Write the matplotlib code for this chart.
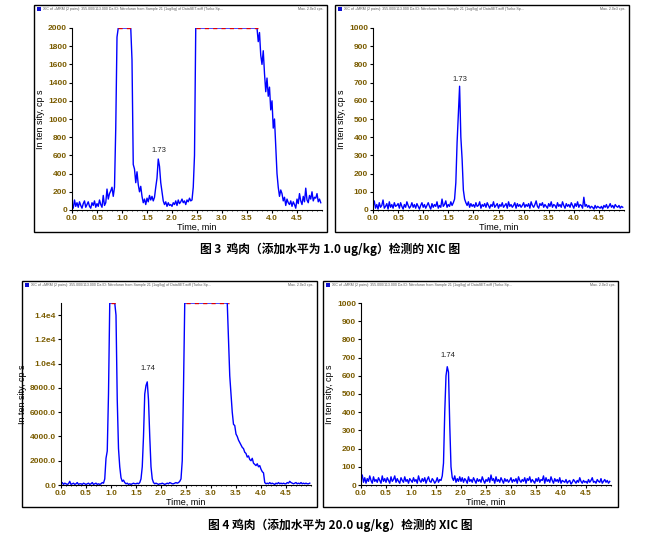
import numpy as np
import matplotlib.pyplot as plt
from matplotlib.patches import Rectangle
from matplotlib.ticker import MultipleLocator

plt.rcParams['font.family'] = ['Liberation Sans', 'DejaVu Sans']

# time grid: 0.025 min steps, 200 points
time = np.arange(200) * 0.025

# 图3 left: 1.0 ug/kg, full XIC (clipped at 2000)
p1 = [60, 20, 110, 40, 80, 30, 90, 50, 20, 70, 100, 30, 60, 90, 40, 20, 80, 50, 100, 30,
      70, 40, 110, 60, 30, 160, 50, 80, 230, 120, 180, 210, 250, 150, 250, 900, 1900, 2000, 2000, 2000,
      2000, 2000, 2000, 2000, 2000, 2000, 2000, 2000, 1650, 500, 450, 300, 420, 280, 200, 260, 150, 80, 120, 60,
      130, 90, 160, 110, 150, 100, 140, 250, 350, 560, 480, 300, 200, 100, 60, 90, 40, 80, 50, 60,
      40, 80, 60, 100, 50, 110, 70, 90, 120, 80, 100, 60, 110, 90, 130, 100, 110, 250, 600, 2000,
      2000, 2000, 2000, 2000, 2000, 2000, 2000, 2000, 2000, 2000, 2000, 2000, 2000, 2000, 2000, 2000, 2000, 2000, 2000, 2000,
      2000, 2000, 2000, 2000, 2000, 2000, 2000, 2000, 2000, 2000, 2000, 2000, 2000, 2000, 2000, 2000, 2000, 2000, 2000, 2000,
      2000, 2000, 2000, 2000, 2000, 2000, 2000, 2000, 2000, 1850, 1950, 1700, 1600, 1750, 1500, 1300, 1450, 1250, 1350, 1100,
      1200, 900, 1000, 700, 400, 250, 150, 220, 180, 100, 140, 50, 120, 80, 60, 100, 40, 90, 60, 20,
      120, 70, 180, 100, 60, 150, 90, 240, 110, 80, 160, 120, 200, 100, 140, 130, 180, 90, 120, 80]

# 图3 right: 1.0 ug/kg
p2 = [20, 50, 10, 30, 5, 40, 15, 25, 55, 10, 20, 35, 5, 45, 15, 30, 10, 40, 20, 25,
      35, 10, 40, 20, 5, 30, 15, 45, 25, 10, 20, 40, 15, 30, 10, 35, 20, 5, 25, 40,
      15, 30, 10, 25, 40, 20, 5, 35, 15, 30, 20, 45, 10, 25, 15, 60, 20, 30, 50, 15,
      30, 20, 45, 25, 40, 60, 150, 370, 530, 680, 400, 280, 110, 60, 40, 25, 45, 15, 35, 20,
      30, 15, 40, 20, 25, 45, 10, 30, 20, 35, 15, 40, 25, 10, 30, 20, 45, 15, 25, 35,
      10, 30, 20, 40, 15, 25, 35, 10, 45, 20, 30, 15, 25, 40, 10, 35, 20, 30, 15, 25,
      40, 15, 30, 20, 35, 10, 45, 25, 15, 30, 50, 20, 10, 35, 25, 40, 15, 30, 20, 10,
      35, 20, 45, 15, 30, 25, 10, 40, 20, 30, 15, 45, 25, 10, 35, 20, 30, 15, 40, 25,
      10, 35, 20, 45, 15, 30, 25, 10, 70, 20, 30, 15, 25, 10, 20, 15, 5, 25, 10, 20,
      15, 10, 20, 5, 25, 15, 30, 10, 20, 35, 15, 25, 10, 30, 20, 15, 25, 10, 20, 15]

# 图4 left: 20.0 ug/kg, full XIC (clipped at 1.5e4)
p3 = [100, 200, 50, 150, 100, 50, 100, 300, 50, 100, 150, 50, 100, 200, 50, 100, 100, 50, 150, 100,
      50, 100, 150, 50, 100, 200, 50, 100, 150, 50, 100, 50, 100, 200, 150, 500, 2200, 2800, 7500, 15000,
      15000, 15000, 15000, 15000, 14000, 7000, 3000, 1500, 600, 300, 400, 200, 100, 150, 50, 100, 50, 100, 150, 100,
      100, 150, 100, 200, 500, 1500, 4000, 7500, 8200, 8500, 7000, 4000, 1500, 500, 200, 100, 150, 100, 50, 100,
      100, 150, 100, 50, 100, 150, 100, 200, 150, 100, 100, 150, 200, 150, 200, 300, 500, 2000, 8000, 15000,
      15000, 15000, 15000, 15000, 15000, 15000, 15000, 15000, 15000, 15000, 15000, 15000, 15000, 15000, 15000, 15000, 15000, 15000, 15000, 15000,
      15000, 15000, 15000, 15000, 15000, 15000, 15000, 15000, 15000, 15000, 15000, 15000, 15000, 15000, 12000, 9000, 7500, 6000, 5000, 4900,
      4200, 4000, 3700, 3500, 3300, 3100, 3000, 2700, 2600, 2300, 2400, 2100, 2000, 2200, 1800, 1700, 1600, 1750, 1500, 1600,
      1300, 1100, 1000, 200, 100, 150, 100, 200, 100, 150, 100, 50, 150, 100, 200, 100, 150, 100, 150, 100,
      100, 200, 150, 300, 200, 150, 100, 150, 200, 100, 150, 100, 200, 100, 150, 100, 150, 100, 100, 150]

# 图4 right: 20.0 ug/kg
p4 = [30, 55, 15, 40, 10, 35, 20, 50, 25, 10, 45, 20, 30, 15, 40, 25, 10, 50, 20, 35,
      15, 40, 25, 10, 45, 20, 30, 50, 15, 35, 20, 10, 40, 25, 15, 45, 20, 30, 10, 35,
      25, 15, 40, 20, 30, 10, 50, 25, 15, 35, 20, 40, 10, 30, 45, 20, 15, 35, 25, 10,
      20, 40, 15, 30, 25, 50, 120, 400, 600, 650, 620, 330, 100, 40, 25, 50, 15, 35, 20, 45,
      20, 40, 15, 35, 25, 10, 45, 20, 30, 15, 40, 25, 10, 35, 20, 30, 15, 45, 25, 10,
      30, 20, 40, 15, 55, 25, 35, 10, 45, 20, 30, 15, 40, 25, 10, 35, 20, 30, 15, 25,
      40, 15, 30, 20, 35, 10, 45, 25, 15, 30, 20, 40, 10, 35, 25, 45, 15, 30, 20, 10,
      35, 20, 40, 15, 30, 25, 50, 10, 40, 20, 30, 15, 45, 25, 10, 35, 20, 30, 15, 40,
      10, 25, 20, 15, 30, 10, 20, 25, 5, 15, 30, 20, 10, 25, 15, 40, 20, 10, 25, 15,
      20, 10, 30, 15, 25, 40, 15, 20, 10, 30, 20, 15, 35, 10, 20, 30, 15, 25, 10, 20]

panels = [
    dict(y=p1, top=2000, ticks=list(range(0, 2001, 200)), labels=None, peak='1.73', at=(1.73, 620),
         sat=[(0.92, 1.2), (2.48, 3.72)], axes=[72, 28, 322, 210], box=[34, 5, 327, 232]),
    dict(y=p2, top=1000, ticks=list(range(0, 1001, 100)), labels=None, peak='1.73', at=(1.73, 700),
         sat=[], axes=[373, 28, 624, 210], box=[335, 5, 629, 232]),
    dict(y=p3, top=15000, ticks=list(range(0, 14001, 2000)),
         labels=['0.0', '2000.0', '4000.0', '6000.0', '8000.0', '1.0e4', '1.2e4', '1.4e4'],
         peak='1.74', at=(1.74, 9300), sat=[(0.99, 1.09), (2.5, 3.35)],
         axes=[61, 303, 311, 485], box=[22, 281, 317, 507]),
    dict(y=p4, top=1000, ticks=list(range(0, 1001, 100)), labels=None, peak='1.74', at=(1.74, 690),
         sat=[], axes=[361, 303, 611, 485], box=[323, 281, 618, 507]),
]

W, H = 659, 547
fig = plt.figure(figsize=(W / 100, H / 100), dpi=100)

tick_col = '#7a5c00'
for p in panels:
    bx0, by0, bx1, by1 = p['box']
    fig.patches.append(Rectangle((bx0 / W, 1 - by1 / H), (bx1 - bx0) / W, (by1 - by0) / H,
                                 transform=fig.transFigure, fill=False, lw=1.0, ec='black'))
    fig.patches.append(Rectangle(((bx0 + 3) / W, 1 - (by0 + 6) / H), 4 / W, 4 / H,
                                 transform=fig.transFigure, fc='#1010d0', ec='none'))
    fig.text((bx0 + 9) / W, 1 - (by0 + 4) / H,
             'XIC of +MRM (2 pairs): 355.000/113.000 Da ID: Nitrofuran from Sample 21 (1ug/kg) of DataSET.wiff (Turbo Sp...',
             fontsize=2.6, color='#555555', va='center')
    fig.text((bx1 - 3) / W, 1 - (by0 + 4) / H, 'Max. 2.0e3 cps.', fontsize=2.6,
             color='#555555', va='center', ha='right')

    ax0, ay0, ax1, ay1 = p['axes']
    ax = fig.add_axes([ax0 / W, 1 - ay1 / H, (ax1 - ax0) / W, (ay1 - ay0) / H])
    y = np.minimum(np.array(p['y'], dtype=float), p['top'])
    ax.plot(time, y, color='#0000ff', lw=1.0)
    for s0, s1 in p['sat']:
        ax.plot([s0, s1], [p['top'], p['top']], color='#e00000', lw=1.0, ls=(0, (3, 3)))
    ax.set_xlim(0, 5.0)
    ax.set_ylim(0, p['top'])
    ax.set_xticks(np.arange(0, 4.6, 0.5))
    ax.set_xticklabels([f'{v:.1f}' for v in np.arange(0, 4.6, 0.5)])
    ax.xaxis.set_minor_locator(MultipleLocator(0.1))
    ax.set_yticks(p['ticks'])
    if p['labels']:
        ax.set_yticklabels(p['labels'])
    for side in ['top', 'right']:
        ax.spines[side].set_visible(False)
    ax.tick_params(labelsize=6, colors='black', length=2, width=0.8, pad=1.5)
    ax.tick_params(which='minor', length=1)
    for lab in ax.get_xticklabels() + ax.get_yticklabels():
        lab.set_color(tick_col)
        lab.set_fontweight('bold')
    ax.set_xlabel('Time, min', fontsize=6.5, labelpad=1)
    ax.set_ylabel('In ten sity, cp s', fontsize=6.5, labelpad=2)
    ax.annotate(p['peak'], xy=p['at'], ha='center', va='bottom', fontsize=5.5, color='#222222')

cap_font = ['Noto Sans CJK SC', 'DejaVu Sans']
fig.text(330 / W, 1 - 249 / H, '图 3  鸡肉（添加水平为 1.0 ug/kg）检测的 XIC 图',
         family=cap_font, fontsize=8.5, fontweight='bold', ha='center', va='center')
fig.text(340 / W, 1 - 525 / H, '图 4 鸡肉（添加水平为 20.0 ug/kg）检测的 XIC 图',
         family=cap_font, fontsize=8.5, fontweight='bold', ha='center', va='center')

fig.savefig('out.png', dpi=100)
